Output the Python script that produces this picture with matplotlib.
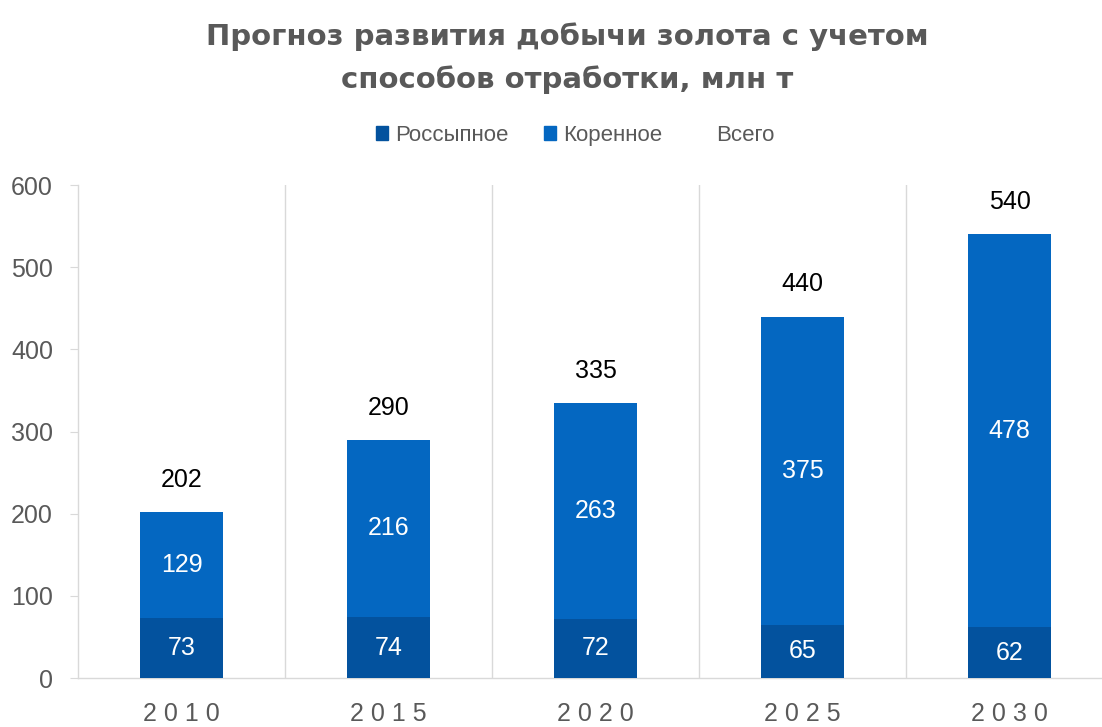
import matplotlib
matplotlib.use("Agg")
import matplotlib.pyplot as plt
from matplotlib.patches import Patch

years = ['2010', '2015', '2020', '2025', '2030']
placer = [73, 74, 72, 65, 62]
lode = [129, 216, 263, 375, 478]
total = [202, 290, 335, 440, 540]

c_placer = '#03529E'
c_lode = '#0467C1'
gray = '#595959'
fnt = 'Liberation Sans'

fig = plt.figure(figsize=(11.02, 7.27), dpi=100)
ax = fig.add_axes([0.0708, 0.0674, 0.93, 0.678])

x = list(range(len(years)))
w = 0.4
ax.bar(x, placer, width=w, color=c_placer, label='Россыпное', zorder=3)
ax.bar(x, lode, width=w, bottom=placer, color=c_lode, label='Коренное', zorder=3)

for i in x:
    ax.text(i, placer[i] / 2, str(placer[i]), ha='center', va='center', color='white',
            fontsize=18, family=fnt, zorder=4)
    ax.text(i, placer[i] + lode[i] / 2, str(lode[i]), ha='center', va='center', color='white',
            fontsize=18, family=fnt, zorder=4)
    ax.text(i, total[i] + 39, str(total[i]), ha='center', va='center', color='black',
            fontsize=18, family=fnt, zorder=4)

ax.set_xlim(-0.5, 4.45)
ax.set_ylim(0, 600)
ax.set_yticks(range(0, 601, 100))
ax.set_xticks(x)
ax.set_xticklabels([' '.join(y) for y in years], family=fnt, fontsize=18, color=gray)
for lbl in ax.get_yticklabels():
    lbl.set_family(fnt)
    lbl.set_fontsize(18)
    lbl.set_color(gray)
ax.tick_params(axis='y', length=6, color='#D9D9D9', pad=12)
ax.tick_params(axis='x', length=0, pad=17)

for b in [0.5, 1.5, 2.5, 3.5]:
    ax.axvline(b, color='#D9D9D9', lw=1, zorder=1)

for s in ['top', 'right']:
    ax.spines[s].set_visible(False)
for s in ['left', 'bottom']:
    ax.spines[s].set_color('#D9D9D9')
    ax.spines[s].set_linewidth(1)

fig.text(0.515, 0.950, 'Прогноз развития добычи золота с учетом', ha='center', va='center',
         fontsize=21, fontweight='bold', color=gray, family='DejaVu Sans')
fig.text(0.515, 0.891, 'способов отработки, млн т', ha='center', va='center',
         fontsize=21, fontweight='bold', color=gray, family='DejaVu Sans')

handles = [Patch(color=c_placer), Patch(color=c_lode), Patch(color='none')]
leg = fig.legend(handles, ['Россыпное', 'Коренное', 'Всего'], loc='center',
                 bbox_to_anchor=(0.522, 0.814), ncol=3, frameon=False,
                 prop={'family': fnt, 'size': 16}, handlelength=0.55, handleheight=0.55,
                 handletextpad=0.3, columnspacing=1.6)
for t in leg.get_texts():
    t.set_color(gray)

fig.savefig('out.png', dpi=100)
